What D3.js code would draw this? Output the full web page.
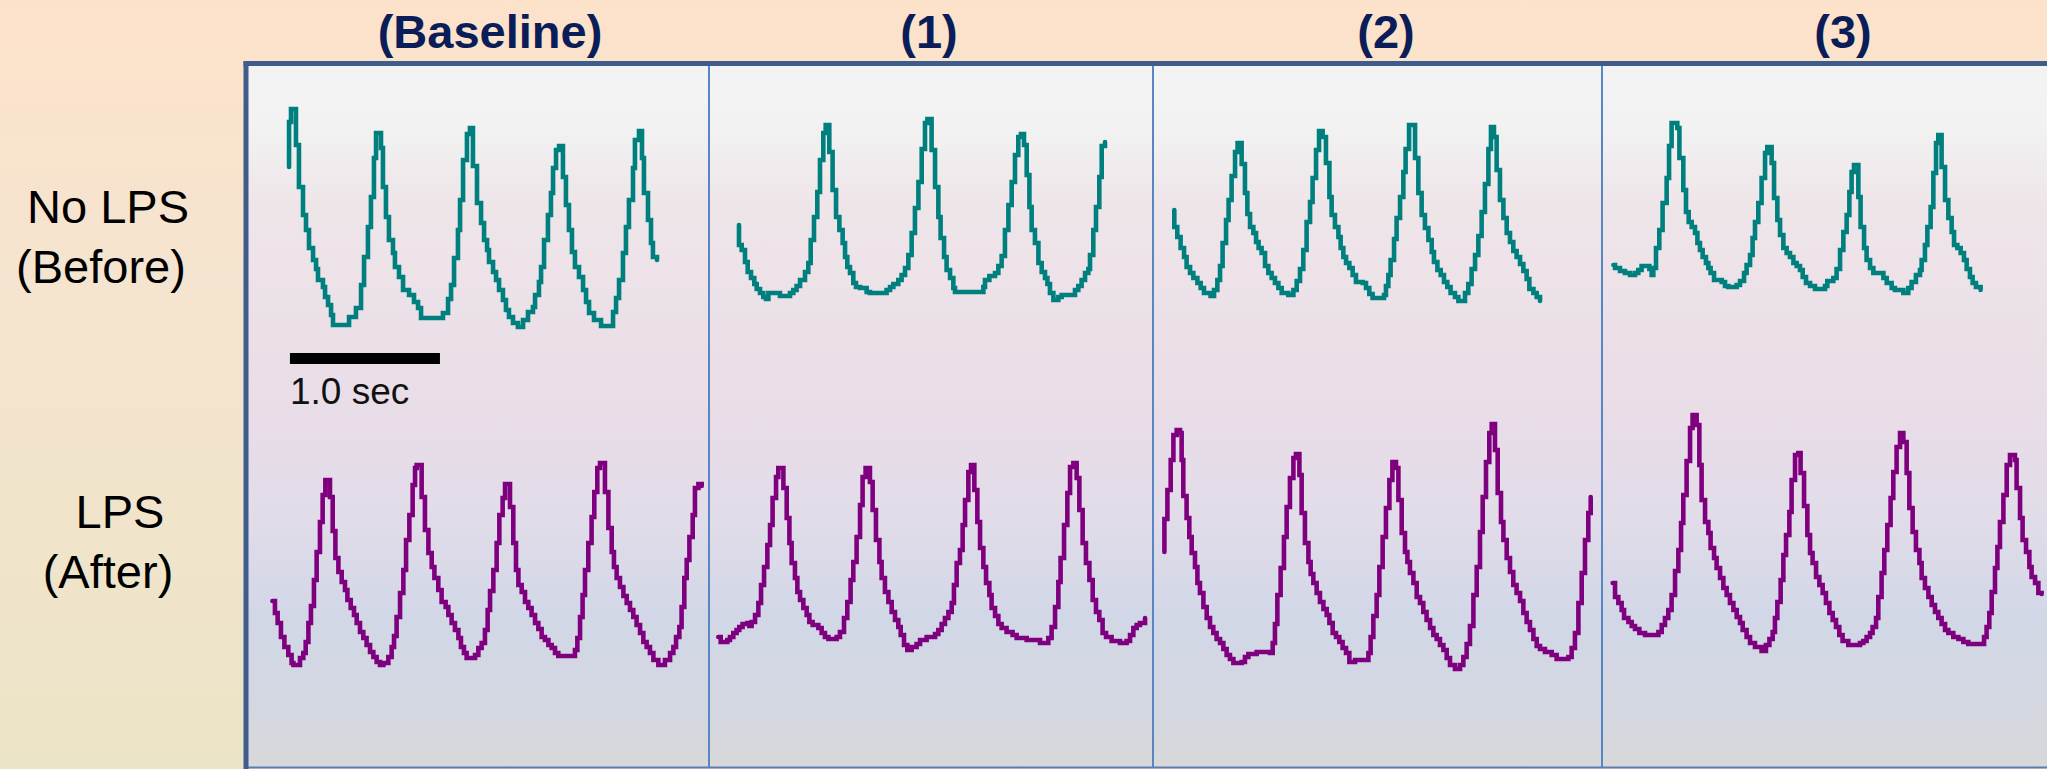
<!DOCTYPE html>
<html>
<head>
<meta charset="utf-8">
<script src="https://cdn.jsdelivr.net/npm/d3@7/dist/d3.min.js"></script>
<style>
  html, body { margin: 0; padding: 0; overflow: hidden; background: #fde3cb; }
  svg { display: block; font-family: "Liberation Sans", Arial, Helvetica, sans-serif; }
</style>
</head>
<body>
<div id="chart"></div>
<script>
// Column titles and row labels
var columnTitles = ["(Baseline)", "(1)", "(2)", "(3)"];
var rowLabels = [["No LPS", "(Before)"], ["LPS", "(After)"]];

// Scale bar (seconds, inside the first panel)
var scaleBarStart = 0.293;
var scaleBarLength = 1.0;
var scaleBarLabel = "1.0 sec";

// Traces: [time in s from panel start, amplitude in a.u.]
// Top row - No LPS (Before)
var noLpsBaseline = [[0.287,173],[0.287,218],[0.300,231],[0.333,195],[0.353,153],[0.380,125],[0.400,110],[0.420,92],[0.447,80],[0.467,71],[0.480,60],[0.513,53],[0.527,43],[0.547,35],[0.567,25],[0.580,15],[0.687,23],[0.733,32],[0.767,55],[0.787,83],[0.813,113],[0.833,143],[0.853,182],[0.867,207],[0.900,192],[0.913,153],[0.933,123],[0.953,100],[0.980,87],[0.993,73],[1.020,63],[1.047,50],[1.087,45],[1.120,38],[1.147,32],[1.167,22],[1.313,27],[1.347,41],[1.367,55],[1.387,82],[1.413,110],[1.427,140],[1.447,180],[1.473,206],[1.493,212],[1.513,174],[1.540,137],[1.567,117],[1.587,100],[1.607,90],[1.620,78],[1.647,68],[1.667,60],[1.687,50],[1.713,40],[1.733,30],[1.753,23],[1.780,17],[1.813,13],[1.847,20],[1.880,28],[1.913,33],[1.927,45],[1.953,58],[1.967,73],[1.987,100],[2.013,125],[2.033,147],[2.047,172],[2.067,190],[2.087,194],[2.113,163],[2.133,135],[2.153,110],[2.173,88],[2.193,73],[2.220,63],[2.247,50],[2.267,38],[2.287,27],[2.320,20],[2.367,14],[2.447,28],[2.467,42],[2.487,60],[2.513,87],[2.533,113],[2.553,140],[2.580,172],[2.593,200],[2.620,209],[2.640,182],[2.653,147],[2.680,120],[2.700,97],[2.713,83],[2.740,80]];
var noLps1 = [[0.200,115],[0.200,95],[0.218,90],[0.240,78],[0.258,68],[0.280,62],[0.302,56],[0.318,51],[0.340,47],[0.362,43],[0.380,41],[0.396,47],[0.473,44],[0.540,47],[0.562,50],[0.584,54],[0.607,60],[0.640,68],[0.662,77],[0.678,100],[0.700,123],[0.722,148],[0.740,180],[0.762,207],[0.778,215],[0.802,188],[0.824,150],[0.847,123],[0.869,110],[0.891,97],[0.907,83],[0.922,73],[0.940,67],[0.962,57],[0.980,53],[1.007,52],[1.051,48],[1.073,47],[1.184,50],[1.207,53],[1.229,56],[1.262,60],[1.284,65],[1.307,72],[1.329,85],[1.351,107],[1.373,132],[1.396,158],[1.418,191],[1.440,217],[1.456,221],[1.484,190],[1.507,153],[1.529,123],[1.544,102],[1.567,83],[1.584,70],[1.607,62],[1.629,52],[1.640,48],[1.829,53],[1.840,60],[1.869,64],[1.907,67],[1.929,74],[1.951,84],[1.973,110],[1.996,135],[2.018,158],[2.040,185],[2.062,203],[2.080,206],[2.100,195],[2.118,165],[2.136,133],[2.151,110],[2.173,97],[2.196,77],[2.218,68],[2.240,62],[2.256,56],[2.273,47],[2.296,40],[2.329,43],[2.351,45],[2.440,50],[2.462,54],[2.484,60],[2.507,67],[2.529,71],[2.540,85],[2.562,110],[2.580,133],[2.602,163],[2.618,194],[2.640,198]];
var noLps2 = [[0.142,130],[0.142,113],[0.162,103],[0.184,92],[0.207,83],[0.224,73],[0.247,67],[0.269,62],[0.296,57],[0.318,52],[0.340,47],[0.384,44],[0.407,50],[0.429,60],[0.447,74],[0.464,97],[0.487,120],[0.504,140],[0.524,164],[0.547,188],[0.564,197],[0.591,176],[0.613,147],[0.629,126],[0.647,113],[0.669,107],[0.687,98],[0.704,92],[0.724,87],[0.747,74],[0.769,67],[0.791,62],[0.813,57],[0.836,52],[0.858,47],[0.902,45],[0.936,50],[0.958,59],[0.980,71],[1.002,90],[1.024,118],[1.047,138],[1.064,162],[1.087,190],[1.107,209],[1.131,203],[1.153,177],[1.176,143],[1.191,125],[1.213,113],[1.236,103],[1.251,92],[1.269,83],[1.287,77],[1.309,72],[1.331,65],[1.353,58],[1.398,57],[1.420,52],[1.442,46],[1.464,42],[1.540,45],[1.553,54],[1.569,65],[1.584,80],[1.607,101],[1.624,122],[1.647,143],[1.669,168],[1.684,191],[1.707,215],[1.747,182],[1.769,147],[1.791,125],[1.813,112],[1.836,100],[1.858,88],[1.873,78],[1.896,70],[1.918,65],[1.940,58],[1.962,53],[1.984,47],[2.013,43],[2.036,39],[2.080,47],[2.102,56],[2.124,71],[2.147,85],[2.169,104],[2.191,128],[2.213,156],[2.236,191],[2.253,213],[2.273,203],[2.291,170],[2.313,140],[2.336,122],[2.358,107],[2.380,98],[2.402,89],[2.424,83],[2.447,76],[2.469,69],[2.491,61],[2.509,51],[2.536,47],[2.558,43],[2.580,39]];
var noLps3 = [[0.076,75],[0.087,72],[0.120,69],[0.153,67],[0.187,65],[0.220,67],[0.242,70],[0.264,74],[0.316,71],[0.331,65],[0.342,72],[0.360,92],[0.382,110],[0.404,137],[0.431,162],[0.447,194],[0.464,217],[0.502,212],[0.516,182],[0.542,150],[0.560,128],[0.578,118],[0.598,113],[0.620,107],[0.636,97],[0.653,90],[0.671,83],[0.693,77],[0.709,72],[0.724,67],[0.747,60],[0.798,58],[0.820,54],[0.842,53],[0.898,55],[0.920,59],[0.947,67],[0.964,75],[0.987,85],[1.004,102],[1.020,118],[1.042,137],[1.064,162],[1.087,187],[1.102,193],[1.131,177],[1.147,142],[1.169,120],[1.187,105],[1.209,92],[1.231,87],[1.253,83],[1.276,77],[1.298,74],[1.320,70],[1.338,63],[1.360,57],[1.387,54],[1.420,51],[1.487,54],[1.502,59],[1.542,62],[1.564,71],[1.587,90],[1.609,108],[1.631,125],[1.649,148],[1.664,168],[1.680,175],[1.709,143],[1.724,113],[1.747,92],[1.764,80],[1.787,72],[1.809,67],[1.876,62],[1.898,57],[1.931,52],[1.953,50],[2.009,47],[2.042,52],[2.064,58],[2.093,65],[2.120,70],[2.131,80],[2.153,95],[2.169,113],[2.191,133],[2.209,167],[2.227,197],[2.242,205],[2.264,173],[2.287,140],[2.309,122],[2.331,108],[2.347,95],[2.369,92],[2.391,87],[2.413,80],[2.431,71],[2.453,63],[2.471,57],[2.493,53],[2.524,50]];

// Bottom row - LPS (After)
var lpsBaseline = [[0.176,99],[0.193,87],[0.211,77],[0.233,63],[0.256,53],[0.282,45],[0.304,37],[0.316,35],[0.360,42],[0.382,47],[0.398,58],[0.416,77],[0.433,94],[0.453,120],[0.471,148],[0.493,178],[0.511,205],[0.529,220],[0.560,203],[0.578,169],[0.596,142],[0.616,128],[0.638,118],[0.660,110],[0.676,100],[0.698,92],[0.720,85],[0.738,77],[0.760,68],[0.782,62],[0.804,55],[0.827,48],[0.849,43],[0.871,38],[0.893,35],[0.916,37],[0.949,43],[0.971,53],[0.987,64],[1.004,83],[1.027,107],[1.049,130],[1.067,160],[1.089,185],[1.111,215],[1.127,232],[1.138,235],[1.171,203],[1.193,170],[1.216,147],[1.238,133],[1.256,122],[1.282,110],[1.304,98],[1.331,93],[1.349,85],[1.371,77],[1.393,70],[1.416,62],[1.433,53],[1.453,47],[1.471,42],[1.527,45],[1.549,52],[1.571,57],[1.593,70],[1.611,90],[1.627,109],[1.649,130],[1.671,157],[1.689,185],[1.711,202],[1.727,216],[1.760,193],[1.782,157],[1.800,130],[1.816,115],[1.838,108],[1.860,98],[1.882,92],[1.904,85],[1.927,77],[1.949,71],[1.971,63],[1.993,60],[2.016,55],[2.038,52],[2.060,47],[2.082,44],[2.193,50],[2.209,62],[2.227,83],[2.244,105],[2.260,130],[2.282,157],[2.304,183],[2.322,208],[2.342,232],[2.360,237],[2.393,208],[2.416,172],[2.438,148],[2.453,133],[2.471,122],[2.493,113],[2.516,104],[2.538,97],[2.560,90],[2.582,83],[2.604,75],[2.627,67],[2.649,58],[2.671,53],[2.693,47],[2.716,40],[2.749,35],[2.793,40],[2.827,47],[2.849,53],[2.867,63],[2.889,73],[2.904,93],[2.922,122],[2.938,140],[2.956,163],[2.978,185],[2.993,212],[3.016,216],[3.038,214]];
var lps1 = [[0.062,63],[0.078,58],[0.122,60],[0.140,63],[0.162,67],[0.184,70],[0.202,73],[0.224,76],[0.256,77],[0.269,74],[0.284,78],[0.307,85],[0.329,97],[0.347,115],[0.367,133],[0.389,155],[0.407,175],[0.424,202],[0.447,223],[0.462,232],[0.496,212],[0.518,182],[0.536,157],[0.551,137],[0.573,122],[0.589,108],[0.607,100],[0.629,92],[0.651,85],[0.669,78],[0.691,75],[0.729,72],[0.751,67],[0.773,63],[0.796,61],[0.851,63],[0.873,68],[0.900,82],[0.922,98],[0.944,120],[0.962,138],[0.984,163],[1.007,195],[1.024,223],[1.044,232],[1.073,218],[1.091,190],[1.113,160],[1.136,138],[1.151,122],[1.173,108],[1.196,98],[1.218,88],[1.240,80],[1.262,73],[1.278,65],[1.300,55],[1.322,50],[1.351,53],[1.384,56],[1.407,60],[1.451,63],[1.507,66],[1.529,70],[1.551,76],[1.573,82],[1.596,88],[1.618,97],[1.633,115],[1.651,137],[1.673,150],[1.691,175],[1.707,200],[1.729,228],[1.747,235],[1.769,210],[1.789,178],[1.807,152],[1.829,133],[1.847,117],[1.869,105],[1.884,92],[1.907,84],[1.929,76],[1.951,72],[1.984,68],[2.024,65],[2.051,62],[2.118,60],[2.207,57],[2.240,57],[2.262,62],[2.284,73],[2.307,93],[2.329,118],[2.344,142],[2.367,175],[2.389,207],[2.407,233],[2.429,237],[2.451,222],[2.469,190],[2.491,157],[2.513,137],[2.536,120],[2.558,100],[2.580,88],[2.602,80],[2.624,67],[2.647,63],[2.684,59],[2.740,57],[2.784,59],[2.807,65],[2.829,72],[2.851,75],[2.873,77],[2.907,82]];
var lps2 = [[0.076,148],[0.076,181],[0.096,210],[0.118,240],[0.136,265],[0.158,270],[0.180,267],[0.191,240],[0.202,204],[0.224,182],[0.242,163],[0.258,147],[0.280,133],[0.296,117],[0.313,107],[0.336,93],[0.358,82],[0.380,73],[0.402,67],[0.424,61],[0.447,57],[0.469,51],[0.491,45],[0.513,41],[0.536,37],[0.591,38],[0.613,43],[0.636,46],[0.691,48],[0.780,47],[0.798,57],[0.813,76],[0.829,105],[0.851,132],[0.873,163],[0.891,193],[0.913,222],[0.936,242],[0.953,246],[0.976,225],[0.991,187],[1.013,157],[1.036,138],[1.051,126],[1.069,117],[1.091,107],[1.113,98],[1.136,91],[1.158,85],[1.176,77],[1.198,67],[1.220,63],[1.242,58],[1.264,52],[1.287,47],[1.309,38],[1.347,40],[1.436,47],[1.451,63],[1.469,84],[1.491,105],[1.509,133],[1.531,163],[1.553,192],[1.576,220],[1.596,238],[1.620,232],[1.636,200],[1.658,167],[1.680,148],[1.696,138],[1.713,127],[1.736,117],[1.758,103],[1.780,97],[1.802,88],[1.824,80],[1.847,72],[1.869,65],[1.891,61],[1.913,55],[1.936,50],[1.958,42],[1.980,35],[2.013,31],[2.047,35],[2.069,43],[2.091,56],[2.113,74],[2.136,105],[2.158,133],[2.180,168],[2.198,203],[2.220,238],[2.242,267],[2.258,276],[2.280,250],[2.298,207],[2.320,178],[2.336,160],[2.358,142],[2.380,128],[2.402,115],[2.424,107],[2.447,99],[2.469,87],[2.491,78],[2.513,70],[2.536,61],[2.558,54],[2.580,51],[2.613,48],[2.658,45],[2.691,41],[2.769,43],[2.791,52],[2.813,67],[2.836,97],[2.858,127],[2.880,160],[2.902,187],[2.918,203]];
var lps3 = [[0.071,117],[0.087,103],[0.109,97],[0.131,90],[0.147,82],[0.176,78],[0.198,74],[0.220,71],[0.249,67],[0.287,65],[0.376,68],[0.398,75],[0.420,82],[0.442,90],[0.464,105],[0.487,129],[0.509,150],[0.527,177],[0.542,205],[0.564,239],[0.587,272],[0.604,285],[0.631,275],[0.649,235],[0.664,200],[0.687,178],[0.709,167],[0.724,152],[0.747,142],[0.764,132],[0.787,122],[0.809,112],[0.831,105],[0.853,97],[0.876,90],[0.898,83],[0.920,77],[0.938,70],[0.964,63],[0.987,57],[1.020,53],[1.064,49],[1.093,55],[1.116,61],[1.138,68],[1.153,82],[1.169,98],[1.191,120],[1.209,145],[1.227,165],[1.249,188],[1.264,220],[1.287,245],[1.309,247],[1.324,227],[1.347,194],[1.369,165],[1.387,147],[1.404,137],[1.427,123],[1.449,115],[1.471,107],[1.493,97],[1.516,87],[1.538,80],[1.560,73],[1.582,65],[1.604,59],[1.642,55],[1.720,57],[1.742,59],[1.764,63],[1.787,67],[1.804,73],[1.827,82],[1.842,103],[1.864,127],[1.882,150],[1.902,175],[1.924,202],[1.942,228],[1.964,253],[1.987,267],[2.009,258],[2.031,227],[2.049,192],[2.071,168],[2.093,150],[2.116,137],[2.131,122],[2.153,112],[2.176,103],[2.198,95],[2.220,88],[2.242,82],[2.264,76],[2.287,70],[2.309,67],[2.342,63],[2.376,61],[2.409,58],[2.442,56],[2.547,63],[2.564,73],[2.582,87],[2.598,108],[2.620,132],[2.636,153],[2.653,178],[2.676,205],[2.698,235],[2.720,245],[2.753,240],[2.764,212],[2.787,182],[2.804,160],[2.827,148],[2.849,133],[2.864,123],[2.887,117],[2.909,107],[2.931,106]];

var traces = [
    { row: 0, col: 0, values: noLpsBaseline },
    { row: 0, col: 1, values: noLps1 },
    { row: 0, col: 2, values: noLps2 },
    { row: 0, col: 3, values: noLps3 },
    { row: 1, col: 0, values: lpsBaseline },
    { row: 1, col: 1, values: lps1 },
    { row: 1, col: 2, values: lps2 },
    { row: 1, col: 3, values: lps3 }
];

// Layout
var width = 2047,
    height = 769;
var boxLeft = 246,
    boxTop = 64,
    boxBottom = 767;
var panelEdges = [246, 709, 1153, 1602, 2060];
var pxPerSecond = 150;
var rowBase = [340, 700];       // pixel of amplitude 0 for each row
var titleX = [490, 929, 1386, 1843];
var rowColours = ["#007f7f", "#7f007f"];

var svg = d3.select("#chart")
    .append("svg")
    .attr("width", width)
    .attr("height", height);

var defs = svg.append("defs");

// Page background gradient (peach to beige)
var pageGrad = defs.append("linearGradient")
    .attr("id", "pageGrad")
    .attr("x1", 0).attr("y1", 0).attr("x2", 0).attr("y2", 1);
[[0, "#fde2ca"], [0.35, "#f5e4cf"], [1, "#ece4c7"]].forEach(function (s) {
    pageGrad.append("stop").attr("offset", s[0]).attr("stop-color", s[1]);
});

// Plot area gradient (light grey, pink, lavender, grey)
var boxGrad = defs.append("linearGradient")
    .attr("id", "boxGrad")
    .attr("x1", 0).attr("y1", 0).attr("x2", 0).attr("y2", 1);
[[0, "#f3f3f3"], [0.09, "#f2f2f2"], [0.2, "#eee5e9"], [0.48, "#e9dde7"],
 [0.64, "#e2dce9"], [0.78, "#d2d7e7"], [0.9, "#d3d7e1"], [1, "#d8d8da"]].forEach(function (s) {
    boxGrad.append("stop").attr("offset", s[0]).attr("stop-color", s[1]);
});

svg.append("rect")
    .attr("width", width)
    .attr("height", height)
    .attr("fill", "url(#pageGrad)");

svg.append("rect")
    .attr("x", boxLeft)
    .attr("y", boxTop)
    .attr("width", width - boxLeft + 10)
    .attr("height", boxBottom - boxTop)
    .attr("fill", "url(#boxGrad)");

// Panel dividers
svg.selectAll("line.divider")
    .data(panelEdges.slice(1, 4))
    .enter()
    .append("line")
    .attr("class", "divider")
    .attr("x1", function (d) { return d; })
    .attr("x2", function (d) { return d; })
    .attr("y1", boxTop)
    .attr("y2", boxBottom)
    .attr("stroke", "#5886c4")
    .attr("stroke-width", 2);

// Box borders: thick left and top, thin bottom
svg.append("line")
    .attr("x1", boxLeft).attr("x2", width)
    .attr("y1", boxBottom + 0.5).attr("y2", boxBottom + 0.5)
    .attr("stroke", "#5b7db3").attr("stroke-width", 2);
svg.append("line")
    .attr("x1", boxLeft).attr("x2", boxLeft)
    .attr("y1", boxTop - 2.5).attr("y2", height)
    .attr("stroke", "#3e5d8c").attr("stroke-width", 5);
svg.append("line")
    .attr("x1", boxLeft - 2.5).attr("x2", width)
    .attr("y1", boxTop - 0.5).attr("y2", boxTop - 0.5)
    .attr("stroke", "#3e5d8c").attr("stroke-width", 5);

// Scales for each panel / row
function xScaleFor(col) {
    return d3.scaleLinear()
        .domain([0, 1])
        .range([panelEdges[col], panelEdges[col] + pxPerSecond]);
}
function yScaleFor(row) {
    return d3.scaleLinear()
        .domain([0, 300])
        .range([rowBase[row], rowBase[row] - 300]);
}

// Draw the traces as sampled (stepped) lines
traces.forEach(function (tr) {
    var x = xScaleFor(tr.col),
        y = yScaleFor(tr.row);
    var line = d3.line()
        .x(function (d) { return x(d[0]); })
        .y(function (d) { return y(d[1]); })
        .curve(d3.curveStepAfter);
    svg.append("path")
        .datum(tr.values)
        .attr("d", line)
        .attr("fill", "none")
        .attr("stroke", rowColours[tr.row])
        .attr("stroke-width", 4.6)
        .attr("stroke-linejoin", "miter")
        .attr("stroke-linecap", "round");
});

// Column titles
svg.selectAll("text.col-title")
    .data(columnTitles)
    .enter()
    .append("text")
    .attr("class", "col-title")
    .attr("x", function (d, i) { return titleX[i]; })
    .attr("y", 48)
    .attr("text-anchor", "middle")
    .style("font-size", "47px")
    .style("font-weight", "bold")
    .style("fill", "#0a1d58")
    .text(function (d) { return d; });

// Row labels
var labelPos = [
    [[108, 223], [101, 283]],
    [[120, 528], [108, 588]]
];
rowLabels.forEach(function (lines, r) {
    lines.forEach(function (txt, k) {
        svg.append("text")
            .attr("x", labelPos[r][k][0])
            .attr("y", labelPos[r][k][1])
            .attr("text-anchor", "middle")
            .style("font-size", "47px")
            .style("fill", "#000")
            .text(txt);
    });
});

// Scale bar
var xs = xScaleFor(0);
svg.append("rect")
    .attr("x", xs(scaleBarStart))
    .attr("y", 353)
    .attr("width", xs(scaleBarStart + scaleBarLength) - xs(scaleBarStart))
    .attr("height", 11)
    .attr("fill", "#000");
svg.append("text")
    .attr("x", xs(scaleBarStart))
    .attr("y", 404)
    .style("font-size", "37px")
    .style("fill", "#111")
    .text(scaleBarLabel);
</script>
</body>
</html>
